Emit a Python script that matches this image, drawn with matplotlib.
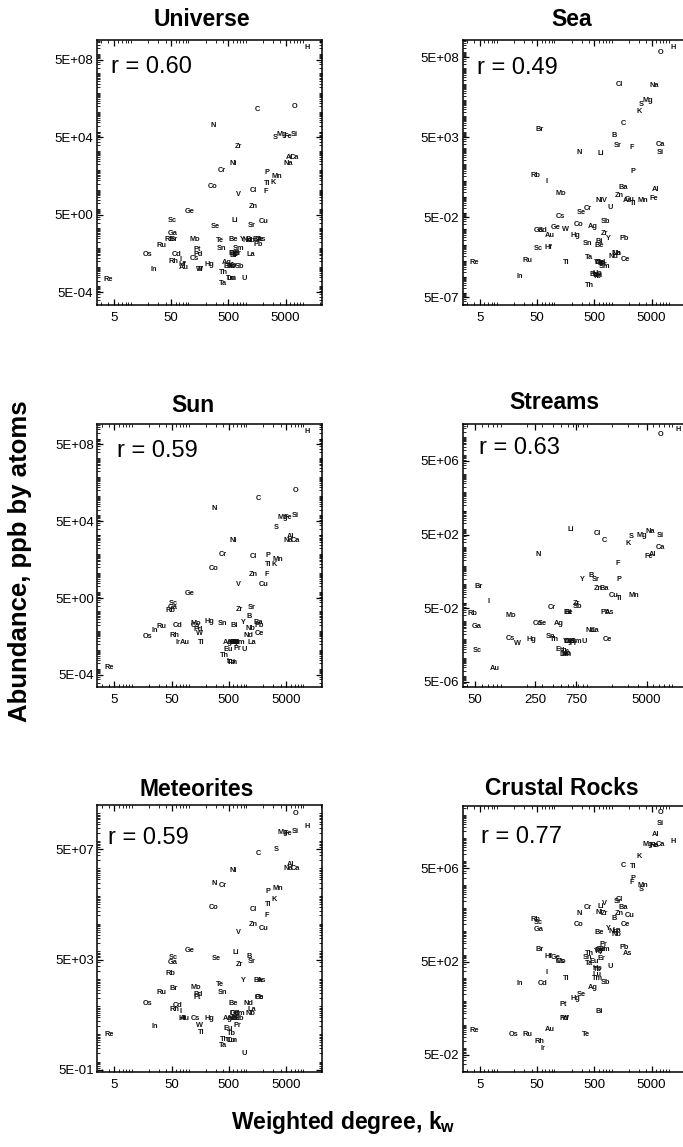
import numpy as np
import matplotlib
matplotlib.use("Agg")
import matplotlib.pyplot as plt
from matplotlib.ticker import FixedLocator, FixedFormatter, LogLocator, NullFormatter

plt.rcParams['font.family'] = ['Liberation Sans', 'DejaVu Sans']
plt.rcParams['mathtext.fontset'] = 'custom'
plt.rcParams['mathtext.bf'] = 'Liberation Sans:bold'
plt.rcParams['mathtext.rm'] = 'Liberation Sans'
plt.rcParams['mathtext.it'] = 'Liberation Sans:italic'

# ---------------- data ----------------
# weighted degree (log10 k_w) of each element
elements = ["H", "Li", "Be", "B", "C", "N", "O", "F", "Na", "Mg", "Al", "Si", "P", "S", "Cl", "K", "Ca",
            "Sc", "Ti", "V", "Cr", "Mn", "Fe", "Co", "Ni", "Cu", "Zn", "Ga", "Ge", "As", "Se", "Br", "Rb",
            "Sr", "Y", "Zr", "Nb", "Mo", "Ru", "Rh", "Pd", "Ag", "Cd", "In", "Sn", "Sb", "Te", "I", "Cs",
            "Ba", "La", "Ce", "Pr", "Nd", "Sm", "Eu", "Gd", "Tb", "Dy", "Ho", "Er", "Tm", "Yb", "Lu", "Hf",
            "Ta", "W", "Re", "Os", "Ir", "Pt", "Au", "Hg", "Tl", "Pb", "Bi", "Th", "U"]
log_kw = [4.07, 2.82, 2.78, 3.05, 3.21, 2.44, 3.86, 3.36, 3.74, 3.64, 3.77, 3.86, 3.38, 3.52, 3.13, 3.49, 3.86,
          1.72, 3.38, 2.87, 2.59, 3.55, 3.73, 2.43, 2.78, 3.31, 3.13, 1.72, 2.02, 3.27, 2.48, 1.74, 1.67,
          3.10, 2.95, 2.88, 3.08, 2.12, 1.53, 1.74, 2.17, 2.67, 1.80, 1.40, 2.58, 2.89, 2.55, 1.86, 2.11,
          3.21, 3.10, 3.24, 2.85, 3.04, 2.88, 2.69, 2.81, 2.75, 2.79, 2.76, 2.83, 2.76, 2.78, 2.74, 1.89,
          2.60, 2.19, 0.61, 1.28, 1.81, 2.15, 1.93, 2.36, 2.21, 3.22, 2.79, 2.62, 2.97]

# abundances (log10 ppb by atoms) per source
universe_elems = ["H", "O", "C", "N", "S", "Mg", "Fe", "Si", "Zr", "Al", "Ca", "Na", "Ni", "Cr", "P", "Mn", "Ti",
                  "K", "Co", "Cl", "F", "V", "Zn", "Ge", "Sc", "Li", "Sr", "Cu", "Se", "Ga", "Rb", "Br", "Mo",
                  "Te", "Be", "Y", "Nb", "Ba", "Nd", "Ce", "B", "As", "La", "Pb", "Ru", "Sn", "Sm", "Pt", "Pd",
                  "Os", "Cd", "Gd", "Er", "Dy", "Pr", "Bi", "Cs", "Rh", "I", "Hf", "Au", "Hg", "Ag", "Eu", "Tb",
                  "Sb", "Ho", "Yb", "In", "W", "Tl", "Th", "Lu", "Tm", "U", "Re", "Ta"]
universe_log_ab = [9.35, 6.29, 6.12, 5.33, 4.71, 4.86, 4.74, 4.86, 4.21, 3.67, 3.67, 3.36, 3.36, 3.00, 2.86, 2.69, 2.30,
                   2.38, 2.18, 1.97, 1.88, 1.73, 1.13, 0.87, 0.39, 0.39, 0.16, 0.37, 0.11, -0.29, -0.60, -0.60, -0.60,
                   -0.63, -0.60, -0.60, -0.63, -0.60, -0.62, -0.60, -0.58, -0.60, -1.34, -0.84, -0.91, -1.03, -1.03, -1.08, -1.34,
                   -1.34, -1.34, -1.32, -1.35, -1.30, -1.28, -1.38, -1.58, -1.72, -1.63, -1.85, -2.01, -1.89, -1.77, -1.99, -1.99,
                   -1.99, -1.95, -1.90, -2.12, -2.11, -2.11, -2.29, -2.58, -2.60, -2.61, -2.63, -2.84]

sea_elems = ["H", "O", "Cl", "Na", "Mg", "S", "K", "C", "Br", "B", "Sr", "F", "Ca", "Si", "N", "Li", "P", "Rb",
             "I", "Mo", "Ba", "Al", "Zn", "Cu", "As", "Ti", "Mn", "Fe", "Ni", "V", "U", "Cr", "Se", "Cs", "Co",
             "Ag", "Sb", "Ga", "Cd", "Ge", "Au", "W", "Hg", "Zr", "Y", "Pb", "Sn", "Bi", "Be", "Sc", "Hf", "Nb",
             "La", "Nd", "Ce", "Ta", "Ru", "Re", "Tl", "Gd", "Dy", "Er", "Yb", "Sm", "Pr", "Ho", "Tm", "Lu",
             "Tb", "Eu", "Th", "In"]
sea_log_ab = [9.32, 9.01, 7.01, 6.95, 5.99, 5.72, 5.30, 4.57, 4.16, 3.82, 3.18, 3.09, 3.28, 2.76, 2.76, 2.66, 1.59, 1.34,
              0.91, 0.20, 0.55, 0.45, 0.09, -0.18, -0.28, -0.45, -0.22, -0.11, -0.28, -0.22, -0.68, -0.74, -1.01, -1.24, -1.74,
              -1.88, -1.57, -2.13, -2.13, -1.93, -2.45, -2.05, -2.43, -2.30, -2.63, -2.65, -2.93, -2.82, -3.07, -3.28, -3.17, -3.55,
              -3.58, -3.76, -3.91, -3.80, -3.99, -4.11, -4.13, -4.11, -4.15, -4.20, -4.15, -4.38, -4.25, -4.80, -4.95, -4.90,
              -5.00, -4.85, -5.59, -4.97]

sun_elems = ["H", "O", "C", "N", "Mg", "Fe", "Si", "S", "Al", "Na", "Ca", "Ni", "Cr", "Co", "Cl", "P", "Mn", "Ti",
             "K", "Zn", "F", "Cu", "V", "Ge", "Sc", "Ga", "Rb", "Zr", "Sr", "B", "Y", "Ba", "Pb", "Nb", "Ce", "Nd",
             "La", "Hg", "Sn", "Bi", "Mo", "Cs", "Pd", "W", "Cd", "Ru", "In", "Os", "Rh", "Ir", "Au", "Tl", "Ag",
             "Gd", "Dy", "Er", "Sm", "Yb", "Ho", "Eu", "Pr", "U", "Th", "Tb", "Lu", "Tm", "Re"]
sun_log_ab = [9.36, 6.27, 5.89, 5.37, 4.90, 4.90, 5.02, 4.38, 3.90, 3.71, 3.71, 3.71, 2.99, 2.23, 2.87, 2.91, 2.68, 2.45,
              2.45, 1.90, 1.90, 1.42, 1.38, 0.91, 0.39, 0.22, 0.03, 0.12, 0.22, -0.27, -0.58, -0.58, -0.75, -0.89, -1.13, -1.26,
              -1.60, -0.53, -0.65, -0.73, -0.61, -0.75, -0.93, -1.13, -0.75, -0.79, -1.01, -1.31, -1.26, -1.60, -1.60, -1.60, -1.60,
              -1.60, -1.60, -1.62, -1.60, -1.62, -1.62, -2.00, -1.91, -2.00, -2.31, -2.64, -2.62, -2.64, -2.90]

streams_elems = ["O", "H", "Li", "Cl", "C", "S", "Mg", "Na", "Si", "K", "Ca", "Al", "Fe", "N", "F", "B", "Sr", "Y",
                 "P", "Zn", "Ba", "Cu", "Ti", "Mn", "Br", "I", "Zr", "Sb", "Cr", "Rb", "Mo", "Bi", "Be", "Pb", "As",
                 "Ga", "Co", "Se", "Ag", "Nd", "La", "Ce", "Cs", "W", "Hg", "Sn", "Th", "Yb", "Gd", "Dy", "Er", "Sm",
                 "U", "Pr", "Eu", "Tb", "Ho", "Lu", "Tm", "Sc", "Au"]
streams_log_ab = [8.15, 8.42, 3.00, 2.77, 2.39, 2.58, 2.64, 2.86, 2.66, 2.19, 2.00, 1.61, 1.50, 1.64, 1.12, 0.45, 0.26, 0.23,
                  0.23, -0.26, -0.26, -0.59, -0.80, -0.59, -0.14, -0.95, -1.04, -1.24, -1.28, -1.58, -1.69, -1.55, -1.55, -1.55, -1.55,
                  -2.31, -2.13, -2.13, -2.13, -2.53, -2.53, -3.00, -2.94, -3.25, -3.00, -2.85, -3.00, -3.09, -3.09, -3.12, -3.12, -3.14,
                  -3.14, -3.20, -3.55, -3.65, -3.75, -3.80, -3.85, -3.61, -4.57]

meteorites_elems = ["O", "H", "Mg", "Fe", "Si", "C", "S", "Al", "Na", "Ca", "Ni", "N", "Cr", "P", "Mn", "K", "Ti",
                    "Co", "Cl", "F", "Zn", "Cu", "V", "Ge", "Sc", "Ga", "Li", "Se", "B", "Sr", "Zr", "Rb", "Y", "Ba",
                    "As", "Mo", "Br", "Te", "Sn", "Ru", "Pd", "Pt", "Ce", "Pb", "Nd", "La", "Nb", "Os", "Cd", "Rh",
                    "Be", "Gd", "Sm", "Dy", "I", "Hf", "Au", "Cs", "Hg", "Ag", "Er", "Yb", "Ho", "Sb", "W", "Tl",
                    "In", "Pr", "Eu", "Tb", "Re", "Th", "Lu", "Tm", "Ta", "U"]
meteorites_log_ab = [9.00, 8.52, 8.30, 8.28, 8.34, 7.55, 7.67, 7.13, 7.01, 7.01, 6.93, 6.47, 6.39, 6.15, 6.28, 5.89, 5.68,
                     5.60, 5.52, 5.29, 4.96, 4.81, 4.68, 4.01, 3.78, 3.60, 3.96, 3.75, 3.81, 3.63, 3.51, 3.18, 2.94, 2.93,
                     2.94, 2.70, 2.66, 2.78, 2.52, 2.50, 2.42, 2.32, 2.33, 2.33, 2.11, 1.90, 1.75, 2.11, 2.05, 1.90,
                     2.11, 1.75, 1.75, 1.75, 1.81, 1.57, 1.57, 1.57, 1.57, 1.57, 1.57, 1.57, 1.57, 1.57, 1.30, 1.06,
                     1.29, 1.30, 1.21, 1.03, 0.99, 0.79, 0.76, 0.76, 0.58, 0.28]

crustal_elems = ["O", "Si", "Al", "Mg", "Na", "Fe", "Ca", "H", "K", "C", "Ti", "P", "F", "Mn", "S", "Sr", "Cl", "Ba",
                 "V", "Li", "Cr", "N", "Ni", "Zr", "Zn", "B", "Cu", "Rb", "Sc", "Ga", "Co", "Ce", "Be", "Y", "Nd",
                 "La", "Nb", "Pb", "As", "Pr", "Sm", "Gd", "Dy", "Yb", "Br", "Hf", "Ge", "Mo", "Cs", "Th", "Sn",
                 "Er", "Ta", "Eu", "Ho", "Tb", "U", "I", "Lu", "Tm", "Sb", "In", "Cd", "Tl", "Ag", "Se", "Hg", "Pt",
                 "Bi", "Pd", "W", "Re", "Au", "Os", "Ru", "Te", "Rh", "Ir"]
crustal_log_ab = [9.10, 8.63, 8.13, 7.73, 7.66, 7.66, 7.73, 7.84, 7.20, 6.83, 6.77, 6.24, 6.10, 5.96, 5.77, 5.27, 5.34, 5.03,
                  5.20, 5.06, 5.03, 4.77, 4.81, 4.76, 4.74, 4.56, 4.66, 4.49, 4.39, 4.06, 4.30, 4.27, 3.94, 4.13, 3.98,
                  4.01, 3.87, 3.30, 3.06, 3.44, 3.22, 3.20, 3.18, 3.15, 3.20, 2.91, 2.88, 2.70, 2.70, 3.03, 2.87,
                  2.84, 2.60, 2.70, 2.41, 2.37, 2.48, 2.24, 2.16, 1.99, 1.80, 1.77, 1.77, 1.99, 1.58, 1.30, 1.13, 0.87,
                  0.56, 0.27, 0.27, -0.26, -0.23, -0.44, -0.44, -0.41, -0.73, -1.02]

titles = ["Universe", "Sea", "Sun", "Streams", "Meteorites", "Crustal Rocks"]
r_values = ["0.60", "0.49", "0.59", "0.63", "0.59", "0.77"]

x_ticks_std = [5, 50, 500, 5000]
x_ticks_streams = [50, 250, 750, 5000]
y_ticks_universe = [5e8, 5e4, 5e0, 5e-4]
y_ticks_sea = [5e8, 5e3, 5e-2, 5e-7]
y_ticks_sun = [5e8, 5e4, 5e0, 5e-4]
y_ticks_streams = [5e6, 5e2, 5e-2, 5e-6]
y_ticks_meteorites = [5e7, 5e3, 5e-1]
y_ticks_crustal = [5e6, 5e2, 5e-2]

# ---------------- drawing ----------------
W, H = 683, 1147
fig = plt.figure(figsize=(W / 100, H / 100), dpi=100)
fig.patch.set_facecolor("white")

kw_of = dict(zip(elements, log_kw))


def ylab(v):
    e = int(np.floor(np.log10(v) + 1e-9))
    m = v / 10 ** e
    return "%dE%s%02d" % (round(m), "+" if e >= 0 else "-", abs(e))


panels = [
    # elems, values, left, top, bottom, xlim(log), ylim(log), xticks, yticks, title pos, r offset, right column
    (universe_elems, universe_log_ab, 96.7, 40, 305, (0.40, 4.33), (-3.96, 9.73), x_ticks_std, y_ticks_universe,
     (201.7, 26), (14, 32.7), False),
    (sea_elems, sea_log_ab, 462.7, 40, 305, (0.40, 4.33), (-6.78, 9.78), x_ticks_std, y_ticks_sea,
     (571.7, 26), (14.7, 34), True),
    (sun_elems, sun_log_ab, 97.3, 424.3, 687, (0.40, 4.33), (-3.93, 9.74), x_ticks_std, y_ticks_sun,
     (193.3, 412), (19.4, 32.3), False),
    (streams_elems, streams_log_ab, 462.7, 424, 687, (1.555, 4.178), (-5.59, 8.71), x_ticks_streams, y_ticks_streams,
     (554.5, 409), (16.7, 30), True),
    (meteorites_elems, meteorites_log_ab, 97.3, 805.3, 1071.7, (0.40, 4.33), (-0.365, 9.29), x_ticks_std,
     y_ticks_meteorites, (196.7, 795.7), (11, 39), False),
    (crustal_elems, crustal_log_ab, 462.7, 805.7, 1071.7, (0.40, 4.33), (-2.02, 9.38), x_ticks_std, y_ticks_crustal,
     (561.7, 795), (18, 37), True),
]

AX_W = 225.0
for i, (els, vals, left, top, bottom, xl, yl, xt, yt, tpos, roff, right_col) in enumerate(panels):
    ax = fig.add_axes([left / W, 1 - bottom / H, AX_W / W, (bottom - top) / H])
    ax.set_xscale("log")
    ax.set_yscale("log")
    ax.set_xlim(10 ** xl[0], 10 ** xl[1])
    ax.set_ylim(10 ** yl[0], 10 ** yl[1])
    ax.xaxis.set_major_locator(FixedLocator(xt))
    ax.xaxis.set_major_formatter(FixedFormatter([str(v) for v in xt]))
    ax.yaxis.set_major_locator(FixedLocator(yt))
    ax.yaxis.set_major_formatter(FixedFormatter([ylab(v) for v in yt]))
    for axis in (ax.xaxis, ax.yaxis):
        axis.set_minor_locator(LogLocator(base=10, subs=np.arange(1, 10), numticks=200))
        axis.set_minor_formatter(NullFormatter())
    ax.tick_params(which="both", direction="in", top=True, right=not right_col, colors="black")
    ax.tick_params(which="major", length=4, width=0.9)
    ax.tick_params(which="minor", length=2, width=0.6)
    ax.tick_params(axis="y", which="major", labelsize=9.5, pad=2.5)
    ax.tick_params(axis="x", which="major", labelsize=9.5, pad=5)
    for sp in ax.spines.values():
        sp.set_linewidth(1.1)
        sp.set_color("black")

    for el, v in zip(els, vals):
        ax.text(10 ** kw_of[el], 10 ** v, el, ha="center", va="center", fontsize=5.3,
                fontweight="bold", color="#111111")

    ax.text(roff[0] / AX_W, 1 - roff[1] / (bottom - top), "r = " + r_values[i],
            transform=ax.transAxes, fontsize=17, ha="left", va="baseline")

    fig.text(tpos[0] / W, 1 - tpos[1] / H, titles[i], ha="center", va="baseline",
             fontsize=16.5, fontweight="bold")

fig.text(20 / W, 1 - 561 / H, "Abundance, ppb by atoms", rotation=90, ha="center", va="center",
         fontsize=18.5, fontweight="bold")
fig.text(343 / W, 1 - 1122 / H, r"Weighted degree, $\mathbf{k_w}$", ha="center", va="center",
         fontsize=16.5, fontweight="bold")

fig.savefig("out.png", dpi=100, facecolor="white")
